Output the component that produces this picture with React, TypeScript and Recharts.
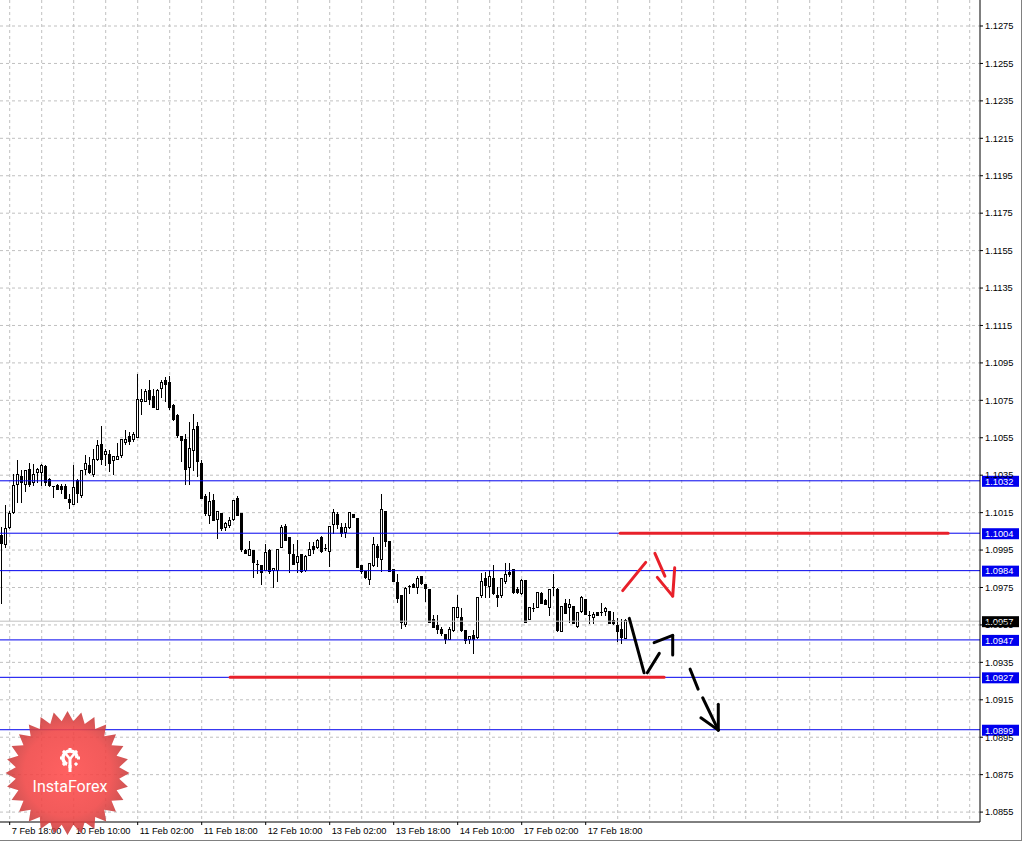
import { ComposedChart, Bar, XAxis, YAxis, CartesianGrid, ReferenceLine } from 'recharts'

// hourly candles (bar 0 = 7 Feb 16:00)
const OPEN = [
  1.10029, 1.09981, 1.10074, 1.10154, 1.10305, 1.10348, 1.10305, 1.10385, 1.10314, 1.10367,
  1.10367, 1.10398, 1.10328, 1.10291, 1.10300, 1.10291, 1.10291, 1.10221, 1.10198, 1.10326,
  1.10246, 1.10381, 1.10406, 1.10355, 1.10434, 1.10519, 1.10465, 1.10465, 1.10430, 1.10437,
  1.10456, 1.10528, 1.10558, 1.10545, 1.10554, 1.10746, 1.10746, 1.10807, 1.10771, 1.10705,
  1.10818, 1.10860, 1.10848, 1.10727, 1.10670, 1.10558, 1.10545, 1.10394, 1.10487, 1.10611,
  1.10417, 1.10237, 1.10139, 1.10220, 1.10118, 1.10150, 1.10074, 1.10086, 1.10118, 1.10230,
  1.10150, 1.09949, 1.09926, 1.09949, 1.09878, 1.09869, 1.09846, 1.09949, 1.09842, 1.09846,
  1.09967, 1.10077, 1.10020, 1.09928, 1.09887, 1.09928, 1.09846, 1.09922, 1.09970, 1.09968,
  1.10018, 1.09961, 1.09947, 1.10087, 1.10142, 1.10075, 1.10048, 1.10075, 1.10142, 1.10119,
  1.09870, 1.09838, 1.09795, 1.09870, 1.09972, 1.09900, 1.10158, 1.09998, 1.09849, 1.09778,
  1.09710, 1.09555, 1.09751, 1.09769, 1.09754, 1.09811, 1.09767, 1.09742, 1.09580, 1.09550,
  1.09527, 1.09502, 1.09473, 1.09523, 1.09594, 1.09594, 1.09523, 1.09473, 1.09496, 1.09484,
  1.09710, 1.09799, 1.09758, 1.09799, 1.09710, 1.09710, 1.09786, 1.09834, 1.09847, 1.09740,
  1.09719, 1.09790, 1.09580, 1.09638, 1.09647, 1.09722, 1.09683, 1.09647, 1.09751, 1.09740,
  1.09519, 1.09665, 1.09647, 1.09651, 1.09544, 1.09626, 1.09687, 1.09604, 1.09590, 1.09619,
  1.09620, 1.09626, 1.09626, 1.09576, 1.09549, 1.09526, 1.09478,
]
const HIGH = [
  1.10074, 1.10189, 1.10160, 1.10358, 1.10430, 1.10376, 1.10380, 1.10415, 1.10412, 1.10390,
  1.10410, 1.10406, 1.10337, 1.10291, 1.10305, 1.10305, 1.10305, 1.10252, 1.10406, 1.10330,
  1.10380, 1.10460, 1.10448, 1.10492, 1.10536, 1.10611, 1.10492, 1.10483, 1.10455, 1.10522,
  1.10542, 1.10590, 1.10581, 1.10580, 1.10889, 1.10812, 1.10812, 1.10857, 1.10812, 1.10810,
  1.10860, 1.10875, 1.10878, 1.10732, 1.10679, 1.10558, 1.10572, 1.10634, 1.10679, 1.10634,
  1.10430, 1.10248, 1.10260, 1.10248, 1.10157, 1.10150, 1.10100, 1.10127, 1.10220, 1.10237,
  1.10150, 1.09958, 1.09997, 1.09949, 1.09896, 1.09869, 1.09985, 1.09958, 1.09856, 1.09958,
  1.10083, 1.10087, 1.10020, 1.09985, 1.10006, 1.09928, 1.09922, 1.09994, 1.09994, 1.10010,
  1.10025, 1.09980, 1.10080, 1.10167, 1.10151, 1.10093, 1.10093, 1.10155, 1.10145, 1.10119,
  1.09870, 1.09838, 1.09879, 1.10021, 1.09981, 1.10249, 1.10158, 1.09998, 1.09849, 1.09820,
  1.09710, 1.09754, 1.09763, 1.09775, 1.09811, 1.09811, 1.09767, 1.09742, 1.09603, 1.09603,
  1.09541, 1.09502, 1.09537, 1.09644, 1.09710, 1.09639, 1.09523, 1.09491, 1.09523, 1.09697,
  1.09829, 1.09834, 1.09843, 1.09870, 1.09754, 1.09799, 1.09879, 1.09879, 1.09847, 1.09751,
  1.09793, 1.09790, 1.09647, 1.09665, 1.09728, 1.09728, 1.09687, 1.09740, 1.09822, 1.09745,
  1.09651, 1.09687, 1.09687, 1.09651, 1.09621, 1.09704, 1.09687, 1.09626, 1.09621, 1.09621,
  1.09665, 1.09647, 1.09626, 1.09621, 1.09585, 1.09580, 1.09580,
]
const LOW = [
  1.09668, 1.09967, 1.10070, 1.10150, 1.10207, 1.10207, 1.10266, 1.10290, 1.10300, 1.10314,
  1.10296, 1.10296, 1.10290, 1.10234, 1.10275, 1.10255, 1.10228, 1.10177, 1.10195, 1.10207,
  1.10234, 1.10358, 1.10363, 1.10344, 1.10430, 1.10412, 1.10403, 1.10373, 1.10358, 1.10437,
  1.10447, 1.10515, 1.10519, 1.10533, 1.10554, 1.10679, 1.10745, 1.10732, 1.10714, 1.10705,
  1.10768, 1.10746, 1.10706, 1.10647, 1.10554, 1.10426, 1.10305, 1.10301, 1.10376, 1.10344,
  1.10228, 1.10139, 1.10095, 1.10109, 1.10017, 1.10059, 1.10059, 1.10074, 1.10109, 1.10136,
  1.09944, 1.09935, 1.09926, 1.09807, 1.09830, 1.09766, 1.09842, 1.09830, 1.09750, 1.09785,
  1.09967, 1.10006, 1.09833, 1.09874, 1.09833, 1.09833, 1.09837, 1.09922, 1.09935, 1.09960,
  1.09940, 1.09950, 1.09865, 1.10039, 1.10070, 1.10025, 1.10021, 1.10070, 1.10128, 1.09858,
  1.09825, 1.09800, 1.09767, 1.09865, 1.09865, 1.09838, 1.09972, 1.09838, 1.09786, 1.09674,
  1.09535, 1.09544, 1.09719, 1.09750, 1.09719, 1.09770, 1.09680, 1.09568, 1.09541, 1.09509,
  1.09496, 1.09455, 1.09473, 1.09518, 1.09594, 1.09520, 1.09455, 1.09455, 1.09398, 1.09480,
  1.09701, 1.09697, 1.09701, 1.09715, 1.09651, 1.09701, 1.09772, 1.09811, 1.09719, 1.09719,
  1.09713, 1.09567, 1.09580, 1.09626, 1.09647, 1.09665, 1.09660, 1.09603, 1.09710, 1.09519,
  1.09519, 1.09612, 1.09567, 1.09558, 1.09540, 1.09621, 1.09608, 1.09558, 1.09562, 1.09603,
  1.09603, 1.09603, 1.09558, 1.09555, 1.09466, 1.09455, 1.09478,
]
const CLOSE = [
  1.09988, 1.10070, 1.10148, 1.10300, 1.10358, 1.10314, 1.10380, 1.10305, 1.10358, 1.10381,
  1.10406, 1.10314, 1.10296, 1.10289, 1.10277, 1.10277, 1.10228, 1.10207, 1.10287, 1.10255,
  1.10380, 1.10415, 1.10367, 1.10438, 1.10510, 1.10434, 1.10478, 1.10416, 1.10452, 1.10451,
  1.10542, 1.10545, 1.10533, 1.10568, 1.10759, 1.10759, 1.10798, 1.10759, 1.10714, 1.10807,
  1.10848, 1.10839, 1.10714, 1.10652, 1.10563, 1.10536, 1.10385, 1.10497, 1.10599, 1.10426,
  1.10228, 1.10148, 1.10211, 1.10109, 1.10157, 1.10070, 1.10097, 1.10109, 1.10220, 1.10136,
  1.09954, 1.09935, 1.09958, 1.09887, 1.09876, 1.09833, 1.09937, 1.09839, 1.09856, 1.09958,
  1.10074, 1.10006, 1.09935, 1.09878, 1.09917, 1.09837, 1.09917, 1.09958, 1.09958, 1.10004,
  1.09947, 1.09959, 1.10078, 1.10151, 1.10087, 1.10039, 1.10071, 1.10151, 1.10128, 1.09858,
  1.09838, 1.09808, 1.09879, 1.09981, 1.09911, 1.10167, 1.09998, 1.09838, 1.09786, 1.09692,
  1.09564, 1.09746, 1.09758, 1.09754, 1.09802, 1.09776, 1.09749, 1.09568, 1.09541, 1.09527,
  1.09509, 1.09473, 1.09527, 1.09644, 1.09648, 1.09523, 1.09470, 1.09491, 1.09473, 1.09697,
  1.09786, 1.09763, 1.09811, 1.09719, 1.09697, 1.09799, 1.09820, 1.09820, 1.09728, 1.09728,
  1.09790, 1.09567, 1.09647, 1.09636, 1.09728, 1.09669, 1.09662, 1.09740, 1.09749, 1.09523,
  1.09651, 1.09612, 1.09662, 1.09558, 1.09617, 1.09701, 1.09608, 1.09602, 1.09608, 1.09605,
  1.09618, 1.09638, 1.09558, 1.09558, 1.09519, 1.09484, 1.09576,
]

const TIME_LABELS = [
  '7 Feb 18:00', '10 Feb 10:00', '11 Feb 02:00', '11 Feb 18:00', '12 Feb 10:00',
  '13 Feb 02:00', '13 Feb 18:00', '14 Feb 10:00', '17 Feb 02:00', '17 Feb 18:00',
]
const TIME_TICK_BARS = [2, 18, 34, 50, 66, 82, 98, 114, 130, 146]
const GRID_BARS = Array.from({ length: 31 }, (_, k) => 2 + 8 * k)

const PRICE_TICKS = [
  1.1275, 1.1255, 1.1235, 1.1215, 1.1195, 1.1175, 1.1155, 1.1135, 1.1115, 1.1095, 1.1075,
  1.1055, 1.1035, 1.1015, 1.0995, 1.0975, 1.0955, 1.0935, 1.0915, 1.0895, 1.0875, 1.0855,
]

// horizontal levels (blue) and the current bid
const LEVELS = [1.1032, 1.1004, 1.0984, 1.0947, 1.0927, 1.0899]
const BID = 1.0957

// hand-drawn annotations: [barFrom, priceFrom, barTo, priceTo]
const RED_MARKS = [
  [154.6, 1.1004, 236.6, 1.1004],
  [57.1, 1.0927, 165.6, 1.0927],
  [155.25, 1.09733, 161.0, 1.09884],
  [163.3, 1.09932, 165.8, 1.09811],
  [163.9, 1.09804, 167.75, 1.09704],
  [168.25, 1.09855, 167.75, 1.09704],
]
const BLACK_MARKS = [
  [156.9, 1.09585, 160.6, 1.09294],
  [161.4, 1.09294, 164.4, 1.09398],
  [163.1, 1.09455, 167.75, 1.09494],
  [167.75, 1.09494, 167.75, 1.09389],
  [172.1, 1.09314, 174.1, 1.09207],
  [175.25, 1.09161, 179.15, 1.08988],
  [174.8, 1.09054, 179.15, 1.08988],
  [179.15, 1.09126, 179.15, 1.08988],
]

const FONT = '"Liberation Sans", Arial, sans-serif'
const BLUE = '#0000ee'
const RED = '#e8202a'

const candles = OPEN.map((o, i) => ({
  bar: i,
  range: [LOW[i], HIGH[i]],
  o,
  h: HIGH[i],
  l: LOW[i],
  c: CLOSE[i],
}))

function Candle(props: any) {
  const { x, y, width, height, payload } = props
  if (!payload || x == null) return null
  const { o, h, l, c } = payload
  const top = Math.min(y, y + height)
  const span = Math.abs(height)
  const py = (v: number) => (h === l ? top : top + ((h - v) / (h - l)) * span)
  const cx = Math.round(x + width / 2)
  const bTop = Math.round(py(Math.max(o, c)))
  const bBot = Math.round(py(Math.min(o, c)))
  const bull = c >= o
  return (
    <g>
      <line x1={cx + 0.5} x2={cx + 0.5} y1={Math.round(top)} y2={Math.round(top + span) + 1} stroke="#000" strokeWidth={1} />
      {bBot - bTop < 2 ? (
        <rect x={cx - 1} y={bTop} width={3} height={1} fill="#000" />
      ) : (
        <rect x={cx - 0.5} y={bTop + 0.5} width={2} height={bBot - bTop} fill={bull ? '#fff' : '#000'} stroke="#000" strokeWidth={1} />
      )}
    </g>
  )
}

function TimeTick(props: any) {
  const { x, y, payload } = props
  const i = TIME_TICK_BARS.indexOf(payload.value)
  return (
    <text x={x + 2} y={y} dy="0.71em" textAnchor="start" fontSize={9.3} fontFamily={FONT} fill="#000">
      {TIME_LABELS[i]}
    </text>
  )
}

function PriceTag(props: any) {
  const { viewBox, price, bg } = props
  if (!viewBox) return null
  const x = viewBox.x + viewBox.width
  const y = viewBox.y
  return (
    <g>
      <rect x={x + 2} y={y - 5} width={37} height={11} fill={bg} />
      <text x={x + 5} y={y + 0.5} dy="0.355em" fill="#fff" fontSize={9.3} fontFamily={FONT}>
        {price.toFixed(4)}
      </text>
    </g>
  )
}

function Seal() {
  const cx = 67.5
  const cy = 773
  const pts: string[] = []
  const n = 28
  for (let k = 0; k < n * 2; k++) {
    const r = k % 2 === 0 ? 62 : 52
    const a = (Math.PI * k) / n - Math.PI / 2
    pts.push(`${(cx + r * Math.cos(a)).toFixed(1)},${(cy + r * Math.sin(a)).toFixed(1)}`)
  }
  const teeth = Array.from({ length: 8 }, (_, k) => k * 45)
  return (
    <svg width={1031} height={843} style={{ position: 'absolute', left: 0, top: 0, pointerEvents: 'none' }}>
      <defs>
        <radialGradient id="sealFill" cx="50%" cy="50%" r="50%">
          <stop offset="0%" stopColor="#ff4b4b" />
          <stop offset="70%" stopColor="#f04444" />
          <stop offset="100%" stopColor="#c63c3c" />
        </radialGradient>
      </defs>
      <polygon points={pts.join(' ')} fill="url(#sealFill)" opacity={0.88} />
      <g fill="#fff" stroke="#fff">
        <circle cx={70} cy={758} r={7} fill="none" strokeWidth={3.5} strokeDasharray="30 14" transform="rotate(115 70 758)" />
        {teeth.map((t) => (
          <rect key={t} x={68.5} y={748} width={3} height={3} stroke="none" transform={`rotate(${t} 70 758)`} />
        ))}
        <rect x={68.5} y={758} width={3} height={14} stroke="none" />
        <line x1={65.5} y1={753.5} x2={70} y2={759} strokeWidth={2.5} />
        <line x1={74.5} y1={753.5} x2={70} y2={759} strokeWidth={2.5} />
      </g>
      <text x={70} y={792} textAnchor="middle" fontSize={16} fontFamily="Roboto, sans-serif" fill="#fff">
        InstaForex
      </text>
    </svg>
  )
}

export default function App() {
  return (
    <div style={{ position: 'absolute', left: 0, top: 0, width: 1031, height: 843, background: '#fff', overflow: 'hidden' }}>
      <ComposedChart width={1031} height={843} data={candles} margin={{ top: 0, right: 0, bottom: 0, left: 0 }}>
        <CartesianGrid
          stroke="#c0c0c0"
          strokeDasharray="3 3"
          verticalValues={GRID_BARS}
          horizontalValues={PRICE_TICKS}
        />
        <XAxis
          dataKey="bar"
          type="number"
          domain={[-0.425, 244.575]}
          allowDataOverflow
          ticks={TIME_TICK_BARS}
          interval={0}
          height={21}
          tickSize={3}
          tickLine={{ stroke: '#000' }}
          axisLine={{ stroke: '#000' }}
          tick={(p: any) => <TimeTick {...p} />}
        />
        <YAxis
          orientation="right"
          type="number"
          width={51}
          domain={[1.08497, 1.12889]}
          allowDataOverflow
          ticks={PRICE_TICKS}
          interval={0}
          tickSize={3}
          tickLine={{ stroke: '#000' }}
          axisLine={{ stroke: '#000' }}
          tick={{ fontSize: 9.3, fill: '#000', fontFamily: FONT }}
          tickFormatter={(v: number) => v.toFixed(4)}
        />
        <Bar dataKey="range" barSize={3} shape={(p: any) => <Candle {...p} />} isAnimationActive={false} />
        <ReferenceLine y={BID} stroke="#c0c0c0" label={<PriceTag price={BID} bg="#000" />} />
        {LEVELS.map((v) => (
          <ReferenceLine key={v} y={v} stroke={BLUE} label={<PriceTag price={v} bg={BLUE} />} />
        ))}
        {RED_MARKS.map((m, k) => (
          <ReferenceLine
            key={'r' + k}
            segment={[{ x: m[0], y: m[1] }, { x: m[2], y: m[3] }]}
            stroke={RED}
            strokeWidth={3}
            strokeLinecap="round"
          />
        ))}
        {BLACK_MARKS.map((m, k) => (
          <ReferenceLine
            key={'b' + k}
            segment={[{ x: m[0], y: m[1] }, { x: m[2], y: m[3] }]}
            stroke="#000"
            strokeWidth={3}
            strokeLinecap="round"
          />
        ))}
      </ComposedChart>
      <Seal />
      <div style={{ position: 'absolute', left: 1021, top: 0, width: 1, height: 841, background: '#808080' }} />
      <div style={{ position: 'absolute', left: 0, top: 840, width: 1022, height: 1, background: '#808080' }} />
    </div>
  )
}
